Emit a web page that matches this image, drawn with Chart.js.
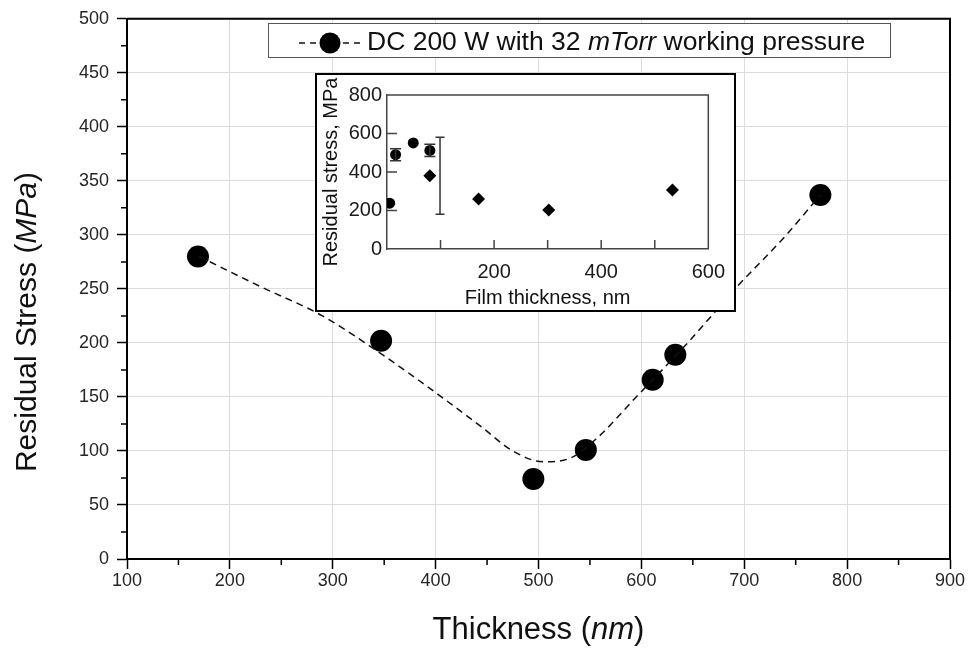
<!DOCTYPE html>
<html><head><meta charset="utf-8">
<script src="https://cdn.jsdelivr.net/npm/chart.js@4"></script>
<style>
html,body{margin:0;padding:0;background:#fff;}
#wrap{position:relative;width:968px;height:649px;overflow:hidden;}
#main{position:absolute;left:0;top:0;}
#inset{position:absolute;left:315px;top:73px;}
</style></head><body>
<div id="wrap">
<canvas id="main" width="968" height="649"></canvas>
<canvas id="inset" width="421" height="239"></canvas>
</div>
<script>
// Residual stress of the DC 200 W films
const thickness = [169, 347, 495, 546, 611, 633, 774];
const stress = [280, 202, 74, 101, 166, 189, 337];
// Trend curve drawn through the measurements
const fitThickness = [170, 230, 290, 350, 400, 445, 475, 505, 530, 557, 595, 644, 670, 692, 740, 774];
const fitStress = [280, 252, 225, 188, 154, 122, 100, 90, 93, 112, 150, 199, 227, 251, 299, 337];
const xTicks = [100, 200, 300, 400, 500, 600, 700, 800, 900];
const yTicks = [0, 50, 100, 150, 200, 250, 300, 350, 400, 450, 500];
const xMinorTicks = [150, 250, 350, 450, 550, 650, 750, 850];
const yMinorTicks = [25, 75, 125, 175, 225, 275, 325, 375, 425, 475];

// Inset: literature values
const insetCircleX = [5, 16, 49, 80];
const insetCircleY = [238, 490, 551, 512];
const insetCircleErr = [0, 31, 0, 32];
const insetDiamondX = [80, 171, 302, 533];
const insetDiamondY = [380, 260, 203, 307];
const insetBarX = [99];
const insetBarY = [381];
const insetBarErr = [200];
const insetXTicks = [0, 100, 200, 300, 400, 500, 600];
const insetXLabels = [200, 400, 600];
const insetYTicks = [0, 200, 400, 600, 800];

const FONT = "'Liberation Sans', Arial, Helvetica, sans-serif";
Chart.defaults.font.family = FONT;
Chart.defaults.color = '#1a1a1a';

function pts(xs, ys) { return xs.map((x, i) => ({x: x, y: ys[i]})); }

// draw text made of plain / italic runs, centred on (cx, cy)
function drawRuns(ctx, runs, size, cx, cy, angle) {
  ctx.save();
  ctx.translate(cx, cy);
  ctx.rotate(angle || 0);
  ctx.textBaseline = 'middle';
  ctx.textAlign = 'left';
  let total = 0;
  const widths = runs.map(r => {
    ctx.font = (r.italic ? 'italic ' : '') + size + 'px ' + FONT;
    const w = ctx.measureText(r.text).width;
    total += w;
    return w;
  });
  let x = -total / 2;
  ctx.fillStyle = '#111';
  runs.forEach((r, i) => {
    ctx.font = (r.italic ? 'italic ' : '') + size + 'px ' + FONT;
    ctx.fillText(r.text, x, 0);
    x += widths[i];
  });
  ctx.restore();
}

const mainDecor = {
  id: 'mainDecor',
  beforeDraw(chart) {
    const c = chart.ctx;
    c.save();
    c.fillStyle = '#fff';
    c.fillRect(0, 0, chart.width, chart.height);
    c.restore();
  },
  afterDraw(chart) {
    const c = chart.ctx, a = chart.chartArea;
    const xs = chart.scales.x, ys = chart.scales.y;
    c.save();
    // frame on top and right
    c.strokeStyle = '#000';
    c.lineWidth = 2;
    c.beginPath();
    c.moveTo(a.left, a.top); c.lineTo(a.right, a.top); c.lineTo(a.right, a.bottom);
    c.stroke();
    // minor ticks
    c.lineWidth = 1.5;
    c.beginPath();
    xMinorTicks.forEach(v => {
      const p = xs.getPixelForValue(v);
      c.moveTo(p, a.bottom); c.lineTo(p, a.bottom + 6);
    });
    yMinorTicks.forEach(v => {
      const p = ys.getPixelForValue(v);
      c.moveTo(a.left, p); c.lineTo(a.left - 6, p);
    });
    c.stroke();

    // axis titles
    drawRuns(c, [{text: 'Thickness ('}, {text: 'nm', italic: true}, {text: ')'}], 31, (a.left + a.right) / 2, 630, 0);
    drawRuns(c, [{text: 'Residual Stress ('}, {text: 'MPa', italic: true}, {text: ')'}], 30, 28, 322, -Math.PI / 2);

    // legend box
    const lx = 268, ly = 23, lw = 622, lh = 34;
    c.fillStyle = '#fff';
    c.fillRect(lx, ly, lw, lh);
    c.strokeStyle = '#555';
    c.lineWidth = 1;
    c.strokeRect(lx + 0.5, ly + 0.5, lw, lh);
    const my = ly + lh / 2 + 3;
    c.strokeStyle = '#111';
    c.lineWidth = 1.5;
    c.setLineDash([6, 5]);
    c.beginPath();
    c.moveTo(299, my); c.lineTo(362, my);
    c.stroke();
    c.setLineDash([]);
    c.fillStyle = '#000';
    c.beginPath();
    c.arc(330, my, 10.5, 0, Math.PI * 2);
    c.fill();
    c.restore();
    const runs = [{text: 'DC 200 W with 32 '}, {text: 'mTorr', italic: true}, {text: ' working pressure'}];
    c.save();
    c.textBaseline = 'middle';
    let x = 367;
    c.fillStyle = '#111';
    runs.forEach(r => {
      c.font = (r.italic ? 'italic ' : '') + '26.5px ' + FONT;
      c.fillText(r.text, x, my);
      x += c.measureText(r.text).width;
    });
    c.restore();
  }
};

new Chart(document.getElementById('main'), {
  type: 'scatter',
  data: {
    datasets: [
      {
        label: 'trend',
        data: pts(fitThickness, fitStress),
        showLine: true,
        pointRadius: 0,
        borderColor: '#111',
        borderWidth: 1.5,
        borderDash: [7, 5],
        cubicInterpolationMode: 'monotone',
        fill: false
      },
      {
        label: 'DC 200 W with 32 mTorr working pressure',
        data: pts(thickness, stress),
        pointRadius: 11,
        pointBackgroundColor: '#000',
        pointBorderColor: '#000',
        pointBorderWidth: 0,
        showLine: false
      }
    ]
  },
  options: {
    responsive: false,
    animation: false,
    devicePixelRatio: 1,
    layout: {padding: {top: 17, right: 18, left: 0, bottom: 0}},
    plugins: {legend: {display: false}, tooltip: {enabled: false}},
    scales: {
      x: {
        type: 'linear', min: 100, max: 900,
        afterBuildTicks(s) { s.ticks = xTicks.map(v => ({value: v})); },
        afterFit(s) { s.height = 90; },
        ticks: {font: {size: 18}, color: '#262626', padding: 1, maxRotation: 0},
        grid: {color: '#dcdcdc', lineWidth: 1, tickColor: '#000', tickLength: 10, tickWidth: 1.5},
        border: {color: '#000', width: 2}
      },
      y: {
        type: 'linear', min: 0, max: 500,
        afterBuildTicks(s) { s.ticks = yTicks.map(v => ({value: v})); },
        afterFit(s) { s.width = 127; },
        ticks: {font: {size: 18}, color: '#262626', padding: 8},
        grid: {color: '#dcdcdc', lineWidth: 1, tickColor: '#000', tickLength: 10, tickWidth: 1.5},
        border: {color: '#000', width: 2}
      }
    }
  },
  plugins: [mainDecor]
});

const insetDecor = {
  id: 'insetDecor',
  beforeDraw(chart) {
    const c = chart.ctx;
    c.save();
    c.fillStyle = '#fff';
    c.fillRect(0, 0, chart.width, chart.height);
    c.restore();
  },
  afterDatasetsDraw(chart) {
    const c = chart.ctx, xs = chart.scales.x, ys = chart.scales.y;
    c.save();
    c.strokeStyle = '#333';
    c.lineWidth = 1.5;
    function bar(x, y, e, cap) {
      if (!e) return;
      const px = xs.getPixelForValue(x);
      const t = ys.getPixelForValue(y + e), b = ys.getPixelForValue(y - e);
      c.beginPath();
      c.moveTo(px, t); c.lineTo(px, b);
      c.moveTo(px - cap, t); c.lineTo(px + cap, t);
      c.moveTo(px - cap, b); c.lineTo(px + cap, b);
      c.stroke();
    }
    insetCircleX.forEach((x, i) => bar(x, insetCircleY[i], insetCircleErr[i], 5.5));
    insetBarX.forEach((x, i) => bar(x, insetBarY[i], insetBarErr[i], 4.5));
    c.restore();
  },
  afterDraw(chart) {
    const c = chart.ctx, a = chart.chartArea;
    const xs = chart.scales.x, ys = chart.scales.y;
    c.save();
    c.strokeStyle = '#444';
    c.lineWidth = 1.5;
    c.beginPath();
    c.moveTo(a.left, a.top); c.lineTo(a.right, a.top); c.lineTo(a.right, a.bottom);
    // inward ticks
    insetXTicks.slice(1, -1).forEach(v => {
      const p = xs.getPixelForValue(v);
      c.moveTo(p, a.bottom); c.lineTo(p, a.bottom - 9);
    });
    insetYTicks.slice(1, -1).forEach(v => {
      const p = ys.getPixelForValue(v);
      c.moveTo(a.left, p); c.lineTo(a.left + 10, p);
    });
    c.stroke();
    // outer box
    c.strokeStyle = '#000';
    c.lineWidth = 2;
    c.strokeRect(1, 1, chart.width - 2, chart.height - 2);
    c.restore();
    drawRuns(c, [{text: 'Residual stress, MPa'}], 20, 16, (a.top + a.bottom) / 2, -Math.PI / 2);
    drawRuns(c, [{text: 'Film thickness, nm'}], 20, (a.left + a.right) / 2, 225, 0);
  }
};

new Chart(document.getElementById('inset'), {
  type: 'scatter',
  data: {
    datasets: [
      {label: 'circles', data: pts(insetCircleX, insetCircleY), pointStyle: 'circle', pointRadius: 5.5,
       pointBackgroundColor: '#000', pointBorderColor: '#000', pointBorderWidth: 0},
      {label: 'diamonds', data: pts(insetDiamondX, insetDiamondY), pointStyle: 'rectRot', pointRadius: 6.5,
       pointBackgroundColor: '#000', pointBorderColor: '#000', pointBorderWidth: 0},
      {label: 'range', data: pts(insetBarX, insetBarY), pointRadius: 0}
    ]
  },
  options: {
    responsive: false,
    animation: false,
    devicePixelRatio: 1,
    layout: {padding: {top: 22, right: 18, left: 0, bottom: 0}},
    plugins: {legend: {display: false}, tooltip: {enabled: false}},
    scales: {
      x: {
        type: 'linear', min: 0, max: 600,
        afterBuildTicks(s) { s.ticks = insetXTicks.map(v => ({value: v})); },
        afterFit(s) { s.height = 63; },
        ticks: {font: {size: 20}, color: '#1a1a1a', padding: 11, maxRotation: 0,
                callback: v => insetXLabels.includes(v) ? String(v) : ''},
        grid: {drawOnChartArea: false, drawTicks: false},
        border: {color: '#444', width: 1.5}
      },
      y: {
        type: 'linear', min: 0, max: 800,
        afterBuildTicks(s) { s.ticks = insetYTicks.map(v => ({value: v})); },
        afterFit(s) { s.width = 72; },
        ticks: {font: {size: 20}, color: '#1a1a1a', padding: 5},
        grid: {drawOnChartArea: false, drawTicks: false},
        border: {color: '#444', width: 1.5}
      }
    }
  },
  plugins: [insetDecor]
});
</script>
</body></html>
